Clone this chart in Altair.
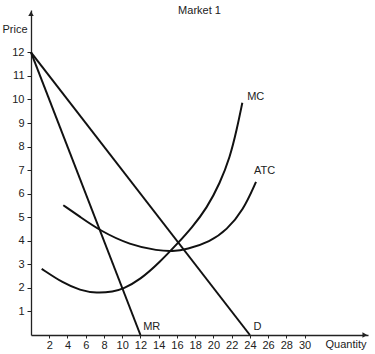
import altair as alt
import pandas as pd

# Demand and marginal revenue (straight lines)
d_q = [0, 24]
d_p = [12, 0]
mr_q = [0, 12]
mr_p = [12, 0]

# Marginal cost curve
mc_q = [1.17, 3.54, 5.37, 7.2, 9.03, 10.1, 11.95, 14.14, 16.15, 17.62, 19.27, 20.72, 21.82, 22.55, 23.17]
mc_p = [2.81, 2.2, 1.9, 1.77, 1.84, 1.96, 2.34, 3.1, 3.92, 4.55, 5.38, 6.45, 7.55, 8.7, 9.86]

# Average total cost curve
atc_q = [3.54, 5.37, 7.57, 10.86, 13.96, 15.5, 17.07, 19.63, 21.46, 23.28, 24.67]
atc_p = [5.51, 5.02, 4.43, 3.82, 3.58, 3.55, 3.63, 3.96, 4.46, 5.3, 6.5]

# Curve labels
lab_text = ["MC", "ATC", "MR", "D"]
lab_q = [23.7, 24.45, 12.3, 24.4]
lab_p = [10.1, 6.96, 0.36, 0.36]

x_ticks = list(range(2, 31, 2))
y_ticks = list(range(1, 13))

XMAX = 36.95
YMAX = 13.8

rows = []
for name, qs, ps in [("D", d_q, d_p), ("MR", mr_q, mr_p), ("MC", mc_q, mc_p), ("ATC", atc_q, atc_p)]:
    for i, (q, p) in enumerate(zip(qs, ps)):
        rows.append({"curve": name, "q": q, "p": p, "o": i})
df = pd.DataFrame(rows)
labels = pd.DataFrame({"t": lab_text, "q": lab_q, "p": lab_p})
arrows = pd.DataFrame({"q": [XMAX - 0.35, 0], "p": [0, YMAX - 0.15], "shape": ["triangle-right", "triangle-up"]})

FONT = "Liberation Sans"

xscale = alt.Scale(domain=[0, XMAX], nice=False, zero=False)
yscale = alt.Scale(domain=[0, YMAX], nice=False, zero=False)

xaxis = alt.Axis(values=x_ticks, tickCount=40, format="d", title="Quantity", titleAngle=0, titleAlign="left",
                 titleBaseline="middle", titleX=294, titleY=9, titleFont=FONT,
                 titleFontSize=11, titleFontWeight="normal", titleColor="#222",
                 labelFont=FONT, labelFontSize=11, labelColor="#222", labelPadding=1,
                 tickSize=3, tickColor="#222", domainColor="#222", domainWidth=1.3,
                 grid=False, labelFlush=False, labelOverlap=False)
yaxis = alt.Axis(values=y_ticks, tickCount=40, format="d", title="Price", titleAngle=0, titleAlign="left",
                 titleBaseline="middle", titleX=-29, titleY=19, titleFont=FONT,
                 titleFontSize=11, titleFontWeight="normal", titleColor="#222",
                 labelFont=FONT, labelFontSize=11, labelColor="#222", labelPadding=3,
                 tickSize=4, tickColor="#222", domainColor="#222", domainWidth=1.3,
                 grid=False, labelFlush=False, labelOverlap=False)

lines = alt.Chart(df).mark_line(color="#111", strokeWidth=2, interpolate="basis").encode(
    x=alt.X("q:Q", scale=xscale, axis=xaxis),
    y=alt.Y("p:Q", scale=yscale, axis=yaxis),
    detail="curve:N",
    order="o:Q",
)

text = alt.Chart(labels).mark_text(align="left", baseline="middle", font=FONT, fontSize=11, color="#222").encode(
    x=alt.X("q:Q", scale=xscale),
    y=alt.Y("p:Q", scale=yscale),
    text="t:N",
)

arrow_pts = alt.Chart(arrows).mark_point(filled=True, color="#222", size=30, opacity=1).encode(
    x=alt.X("q:Q", scale=xscale),
    y=alt.Y("p:Q", scale=yscale),
    shape=alt.Shape("shape:N", scale=None),
)

chart = alt.layer(lines, text, arrow_pts).properties(
    width=337, height=325,
    title=alt.TitleParams("Market 1", font=FONT, fontSize=11, fontWeight="normal", color="#222", offset=-6, anchor="middle"),
    autosize=alt.AutoSizeParams(type="none"),
    padding={"left": 31, "top": 10, "right": 7, "bottom": 19},
).configure_view(stroke=None)

chart.save("out.html", embed_options={"renderer": "svg", "actions": False})
